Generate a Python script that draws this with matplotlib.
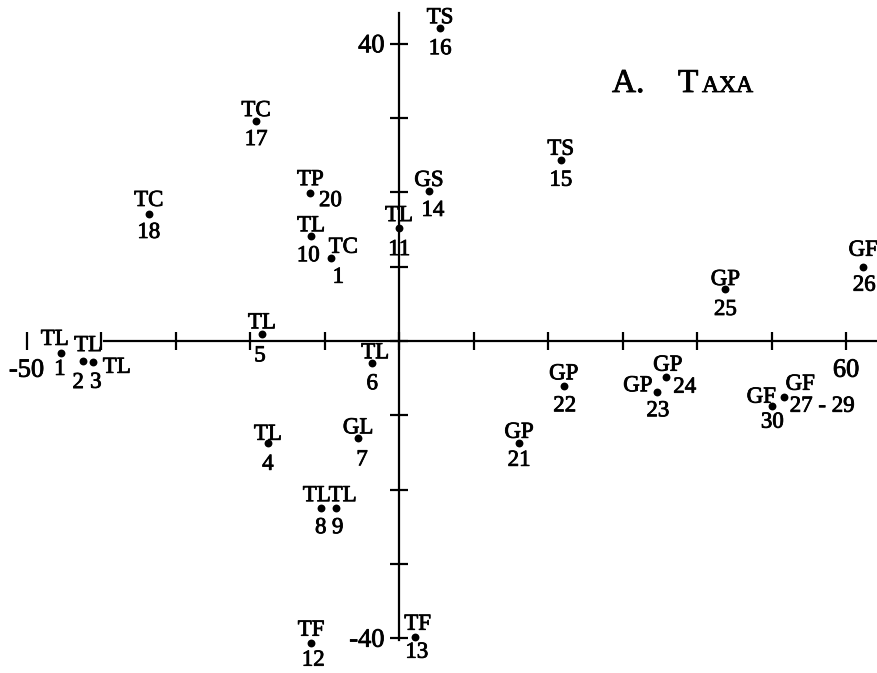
import matplotlib
matplotlib.use('Agg')
import matplotlib.pyplot as plt
import matplotlib.patheffects as pe

# ---- data ----
codes = ['TL', 'TL', 'TL', 'TL', 'TL', 'TL', 'GL', 'TL', 'TL', 'TL',
         'TL', 'TF', 'TF', 'GS', 'TS', 'TS', 'TC', 'TC', 'TC', 'TP',
         'GP', 'GP', 'GP', 'GP', 'GP', 'GF', 'GF', 'GF']
numbers = ['1', '2', '3', '4', '5', '6', '7', '8', '9', '10',
           '11', '12', '13', '14', '15', '16', '17', '18', '1', '20',
           '21', '22', '23', '24', '25', '26', '27 - 29', '30']
x_vals = [-45.4, -42.4, -41.1, -17.6, -18.4, -3.6, -5.5, -10.5, -8.5, -11.8,
          0.0, -11.8, 2.1, 4.0, 21.7, 5.5, -19.2, -33.6, -9.1, -11.9,
          16.1, 22.1, 34.6, 35.8, 43.8, 62.3, 51.7, 50.1]
y_vals = [-1.6, -2.7, -2.8, -13.7, 0.9, -3.0, -13.1, -22.5, -22.5, 14.1,
          15.2, -40.6, -39.8, 20.2, 24.4, 42.1, 29.6, 17.1, 11.2, 19.9,
          -13.7, -6.1, -6.9, -4.8, 7.0, 10.0, -7.5, -8.7]
x_ticks = [-50, -40, -30, -20, -10, 0, 10, 20, 30, 40, 50, 60]
x_tick_labels = ['-50', '', '', '', '', '', '', '', '', '', '', '60']
y_ticks = [-40, -30, -20, -10, 0, 10, 20, 30, 40]
y_tick_labels = ['-40', '', '', '', '', '', '', '', '40']
title_parts = ['A.', 'T', 'AXA']

# ---- label layout (pixel offsets from each dot) ----
code_off = [(-6, 16), (5, 18), (24, -3), (0, 11), (0, 14), (3, 13), (0, 13), (-4, 15), (7, 15), (0, 13),
            (0, 15), (0, 15), (3, 15), (0, 13), (0, 13), (0, 13), (0, 13), (0, 16), (12, 13), (0, 16),
            (0, 13), (0, 15), (-19, 9), (2, 14), (0, 12), (0, 19), (16, 15), (-11, 11)]
num_off = [(-1, -14), (-5, -19), (3, -18), (0, -19), (-2, -19), (0, -18), (4, -19), (0, -17), (2, -17), (-3, -17),
           (0, -19), (2, -15), (2, -13), (4, -17), (0, -18), (0, -18), (0, -16), (0, -16), (7, -17), (20, -5),
           (0, -15), (1, -17), (1, -16), (19, -8), (0, -18), (1, -16), (38, -7), (0, -14)]

W, H = 877, 673
X0, Y0 = 399, 341
SX, SY = 7.45, 7.43

plt.rcParams['font.family'] = ['Liberation Serif', 'DejaVu Serif']
heavy = [pe.withStroke(linewidth=0.6, foreground='black')]

fig = plt.figure(figsize=(W / 100, H / 100), dpi=100)
ax = fig.add_axes([0, 0, 1, 1])
ax.set_xlim(-X0 / SX, (W - X0) / SX)
ax.set_ylim(-(H - Y0) / SY, Y0 / SY)
ax.patch.set_visible(False)

for s in ['top', 'right']:
    ax.spines[s].set_visible(False)
ax.spines['left'].set_position(('data', 0))
ax.spines['bottom'].set_position(('data', 0))
ax.spines['left'].set_bounds(-40.2, 44.1)
ax.spines['bottom'].set_bounds(-39.6, (W - X0) / SX)
for s in ['left', 'bottom']:
    ax.spines[s].set_linewidth(1.6)
    ax.spines[s].set_color('black')

ax.set_xticks(x_ticks)
ax.set_xticklabels(x_tick_labels)
ax.set_yticks(y_ticks)
ax.set_yticklabels(y_tick_labels)
ax.tick_params(axis='both', direction='inout', length=13, width=1.6, colors='black', labelsize=19)
ax.tick_params(axis='x', pad=7)
ax.tick_params(axis='y', pad=4)
for lab in ax.get_xticklabels() + ax.get_yticklabels():
    lab.set_path_effects(heavy)

ax.scatter(x_vals, y_vals, s=32, color='black', zorder=3, linewidths=0)

for xv, yv, c, n, co, no in zip(x_vals, y_vals, codes, numbers, code_off, num_off):
    ax.annotate(c, (xv, yv), xytext=co, textcoords='offset pixels',
                ha='center', va='center_baseline', fontsize=16.5, path_effects=heavy)
    ax.annotate(n, (xv, yv), xytext=no, textcoords='offset pixels',
                ha='center', va='center_baseline', fontsize=16.5, path_effects=heavy)

base = 1 - 92 / H
fig.text(612 / W, base, title_parts[0], fontsize=24, ha='left', va='baseline', path_effects=heavy)
fig.text(678 / W, base, title_parts[1], fontsize=24, ha='left', va='baseline', path_effects=heavy)
fig.text(702 / W, base, title_parts[2], fontsize=17, ha='left', va='baseline', path_effects=heavy)

fig.savefig('out.png', dpi=100)
